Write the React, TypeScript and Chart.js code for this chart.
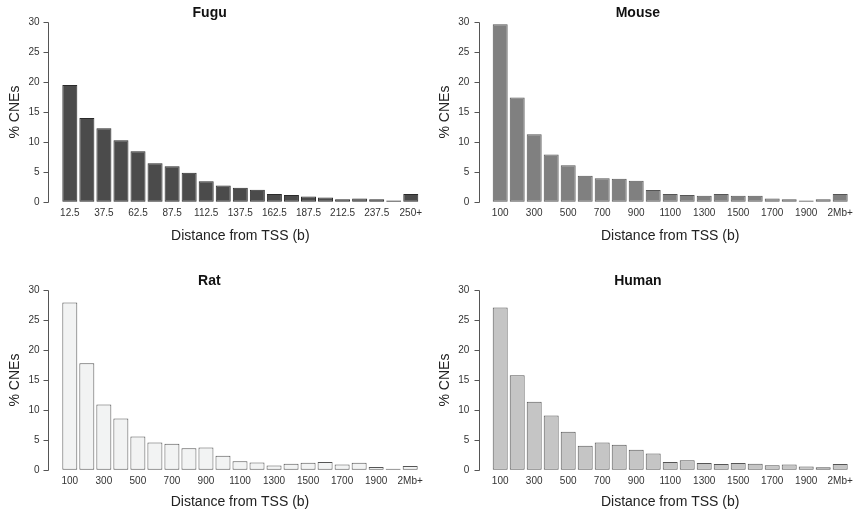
import React, { useEffect, useRef } from "react";
import { Chart, registerables } from "chart.js";

Chart.register(...registerables);

const fuguCategories = ["12.5", "25", "37.5", "50", "62.5", "75", "87.5", "100", "112.5", "125", "137.5", "150", "162.5", "175", "187.5", "200", "212.5", "225", "237.5", "250", "250+"];
const mammalCategories = ["100", "200", "300", "400", "500", "600", "700", "800", "900", "1000", "1100", "1200", "1300", "1400", "1500", "1600", "1700", "1800", "1900", "2000", "2Mb+"];

const fuguValues = [19.5, 14.0, 12.3, 10.3, 8.5, 6.5, 6.0, 4.9, 3.5, 2.8, 2.4, 2.1, 1.4, 1.2, 0.95, 0.8, 0.5, 0.65, 0.5, 0.3, 1.4];
const mouseValues = [29.6, 17.4, 11.3, 7.95, 6.15, 4.4, 4.0, 3.9, 3.6, 2.05, 1.4, 1.2, 1.1, 1.4, 1.1, 1.1, 0.65, 0.5, 0.3, 0.5, 1.4];
const ratValues = [27.9, 17.8, 10.95, 8.6, 5.6, 4.6, 4.4, 3.65, 3.8, 2.4, 1.5, 1.3, 0.8, 1.1, 1.25, 1.4, 0.95, 1.25, 0.55, 0.25, 0.7];
const humanValues = [27.05, 15.8, 11.4, 9.1, 6.4, 4.1, 4.6, 4.25, 3.4, 2.8, 1.4, 1.65, 1.2, 1.05, 1.2, 1.1, 0.85, 0.95, 0.65, 0.5, 1.05];

const yTickValues = [0, 5, 10, 15, 20, 25, 30];

const FONT = "'Liberation Sans', Arial, Helvetica, sans-serif";

const rAxisPlugin = {
  id: "rAxis",
  afterDraw(chart: any, _args: any, opts: any) {
    const { ctx, chartArea } = chart;
    const ys = chart.scales.y;
    const x = Math.round(chartArea.left - opts.gap) + 0.5;
    ctx.save();
    ctx.strokeStyle = "#555";
    ctx.lineWidth = 1;
    ctx.beginPath();
    ctx.moveTo(x, Math.round(ys.getPixelForValue(0)) + 0.5);
    ctx.lineTo(x, Math.round(ys.getPixelForValue(30)) + 0.5);
    for (const v of yTickValues) {
      const py = Math.round(ys.getPixelForValue(v)) + 0.5;
      ctx.moveTo(x, py);
      ctx.lineTo(x - 5, py);
    }
    ctx.stroke();
    ctx.restore();
  },
};

type PanelProps = {
  title: string;
  categories: string[];
  values: number[];
  fill: string;
  border: string;
  left: number;
  top: number;
  chartLeft: number;
  gap: number;
  padRight: number;
  labelPad: number;
  yTitlePad: number;
  xTitlePad: number;
};

const W = 428;
const H = 245;
const CHART_BOTTOM = 202.3;
const CLEAR = "rgba(0,0,0,0)";

function Panel(p: PanelProps) {
  const ref = useRef<HTMLCanvasElement | null>(null);
  useEffect(() => {
    if (!ref.current) return;
    const chart = new Chart(ref.current, {
      type: "bar",
      data: {
        labels: p.categories,
        datasets: [
          {
            data: p.values,
            backgroundColor: p.fill,
            borderColor: p.border,
            borderWidth: 1,
            borderSkipped: false,
            barPercentage: 0.88,
            categoryPercentage: 1,
          },
        ],
      },
      options: {
        responsive: false,
        animation: false,
        layout: { padding: { left: 0, right: p.padRight, top: 0, bottom: 0 } },
        plugins: {
          legend: { display: false },
          tooltip: { enabled: false },
          title: {
            display: true,
            text: p.title,
            color: "#111",
            font: { family: FONT, size: 14, weight: "bold" },
            padding: { top: 5, bottom: 0 },
          },
          rAxis: { gap: p.gap },
        } as any,
        scales: {
          x: {
            grid: { display: true, drawOnChartArea: false, drawTicks: true, tickLength: 5, color: CLEAR },
            border: { display: false },
            ticks: {
              autoSkip: false,
              maxRotation: 0,
              minRotation: 0,
              padding: 0,
              color: "#333",
              font: { family: FONT, size: 10 },
              callback: (_v: any, i: number) => (i % 2 === 0 ? p.categories[i] : ""),
            },
            title: {
              display: true,
              text: "Distance from TSS (b)",
              color: "#222",
              font: { family: FONT, size: 14 },
              padding: { top: 0, bottom: p.xTitlePad },
            },
            afterFit: (s: any) => {
              s.height = H - CHART_BOTTOM;
            },
          },
          y: {
            min: 0,
            max: 30,
            grid: { display: true, drawOnChartArea: false, drawTicks: true, tickLength: p.labelPad, color: CLEAR },
            border: { display: false },
            ticks: {
              stepSize: 5,
              padding: 0,
              color: "#333",
              font: { family: FONT, size: 10 },
            },
            title: {
              display: true,
              text: "% CNEs",
              color: "#222",
              font: { family: FONT, size: 14 },
              padding: { top: p.yTitlePad, bottom: 0 },
            },
            afterFit: (s: any) => {
              s.width = p.chartLeft;
            },
          },
        },
      },
      plugins: [rAxisPlugin],
    });
    return () => chart.destroy();
  }, []);
  return (
    <div style={{ position: "absolute", left: p.left, top: p.top, width: W, height: H }}>
      <canvas ref={ref} width={W} height={H} style={{ width: W, height: H, display: "block" }} />
    </div>
  );
}

export default function App() {
  return (
    <div style={{ position: "fixed", left: 0, top: 0, width: 855, height: 513, background: "#fff", overflow: "hidden" }}>
      <Panel title="Fugu" categories={fuguCategories} values={fuguValues} fill="#4b4b4b" border="#2a2a2a"
        left={0} top={0} chartLeft={61.3} gap={13} padRight={8.7} labelPad={21.8} yTitlePad={6.6} xTitlePad={0} />
      <Panel title="Mouse" categories={mammalCategories} values={mouseValues} fill="#808080" border="#555"
        left={427} top={0} chartLeft={64.7} gap={12.4} padRight={6.3} labelPad={22.4} yTitlePad={9.6} xTitlePad={0} />
      <Panel title="Rat" categories={mammalCategories} values={ratValues} fill="#f2f3f3" border="#555"
        left={0} top={268} chartLeft={61.3} gap={13} padRight={9.3} labelPad={21.8} yTitlePad={6.6} xTitlePad={2} />
      <Panel title="Human" categories={mammalCategories} values={humanValues} fill="#c5c5c5" border="#555"
        left={427} top={268} chartLeft={64.7} gap={12.4} padRight={6.3} labelPad={22.4} yTitlePad={9.6} xTitlePad={2} />
    </div>
  );
}
